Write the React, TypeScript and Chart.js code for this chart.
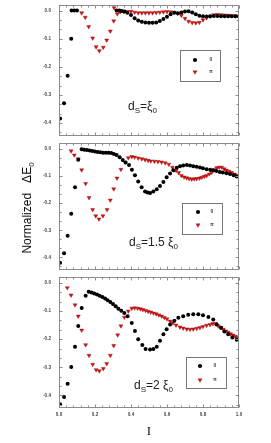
import React, { useEffect, useRef } from "react";
import { Chart, registerables } from "chart.js";
Chart.register(...registerables);

const xTicks = [0, 0.2, 0.4, 0.6, 0.8, 1.0];
const yTicks = [-0.4, -0.3, -0.2, -0.1, 0.0];
const seriesNames = ["0", "π"];

// Panel 1: dS = ξ0
const p1ZeroX = [0.006, 0.028, 0.048, 0.068, 0.07, 0.085, 0.1, 0.32, 0.335, 0.35, 0.365, 0.38, 0.4, 0.42, 0.44, 0.46, 0.48, 0.5, 0.52, 0.54, 0.56, 0.58, 0.6, 0.62, 0.64, 0.66, 0.68, 0.7, 0.72, 0.74, 0.76, 0.78, 0.8, 0.82, 0.84, 0.86, 0.88, 0.9, 0.92, 0.94, 0.96, 0.98, 1.0];
const p1ZeroY = [-0.384, -0.33, -0.232, -0.1, 0, 0, 0, 0, 0, -0.001, -0.003, -0.008, -0.016, -0.027, -0.035, -0.04, -0.042, -0.043, -0.043, -0.042, -0.037, -0.03, -0.022, -0.013, -0.008, -0.009, -0.007, -0.003, -0.002, -0.007, -0.013, -0.018, -0.02, -0.021, -0.02, -0.019, -0.019, -0.02, -0.02, -0.02, -0.02, -0.02, -0.021];
const p1PiX = [0.126, 0.146, 0.165, 0.187, 0.206, 0.224, 0.246, 0.265, 0.285, 0.304, 0.306, 0.324, 0.34, 0.36, 0.38, 0.4, 0.42, 0.44, 0.46, 0.48, 0.5, 0.52, 0.54, 0.56, 0.58, 0.6, 0.62, 0.64, 0.66, 0.68, 0.7, 0.72, 0.74, 0.76, 0.78, 0.8, 0.82, 0.84, 0.86, 0.88, 0.9, 0.92, 0.94, 0.96, 0.98, 1.0];
const p1PiY = [-0.008, -0.024, -0.057, -0.098, -0.129, -0.143, -0.131, -0.105, -0.073, -0.037, 0.01, -0.012, -0.004, -0.004, -0.004, -0.003, -0.006, -0.008, -0.008, -0.008, -0.008, -0.008, -0.007, -0.006, -0.005, -0.004, -0.005, -0.006, -0.01, -0.017, -0.028, -0.038, -0.043, -0.044, -0.042, -0.033, -0.026, -0.02, -0.015, -0.014, -0.015, -0.016, -0.017, -0.018, -0.019, -0.02];

// Panel 2: dS = 1.5 ξ0
const p2ZeroX = [0.006, 0.028, 0.048, 0.068, 0.089, 0.107, 0.126, 0.14, 0.155, 0.17, 0.185, 0.2, 0.215, 0.23, 0.245, 0.26, 0.275, 0.29, 0.305, 0.32, 0.337, 0.354, 0.37, 0.389, 0.405, 0.422, 0.44, 0.459, 0.478, 0.492, 0.506, 0.524, 0.543, 0.561, 0.58, 0.598, 0.617, 0.635, 0.654, 0.672, 0.69, 0.71, 0.728, 0.746, 0.765, 0.783, 0.8, 0.82, 0.84, 0.857, 0.875, 0.893, 0.91, 0.93, 0.95, 0.97, 0.987];
const p2ZeroY = [-0.42, -0.385, -0.32, -0.239, -0.142, -0.04, -0.002, -0.003, -0.004, -0.006, -0.008, -0.01, -0.012, -0.013, -0.014, -0.014, -0.014, -0.015, -0.019, -0.023, -0.031, -0.041, -0.05, -0.06, -0.077, -0.097, -0.12, -0.142, -0.157, -0.161, -0.163, -0.157, -0.149, -0.137, -0.122, -0.105, -0.091, -0.079, -0.07, -0.064, -0.061, -0.06, -0.061, -0.064, -0.066, -0.069, -0.072, -0.075, -0.077, -0.079, -0.082, -0.085, -0.087, -0.09, -0.093, -0.097, -0.102];
const p2PiX = [0.067, 0.085, 0.107, 0.126, 0.148, 0.167, 0.187, 0.204, 0.222, 0.244, 0.267, 0.285, 0.304, 0.322, 0.344, 0.367, 0.385, 0.404, 0.42, 0.44, 0.46, 0.478, 0.495, 0.51, 0.53, 0.55, 0.57, 0.59, 0.61, 0.63, 0.65, 0.665, 0.68, 0.695, 0.709, 0.723, 0.737, 0.751, 0.765, 0.78, 0.793, 0.807, 0.82, 0.835, 0.848, 0.862, 0.876, 0.89, 0.904, 0.918, 0.93, 0.945, 0.96, 0.975, 0.99];
const p2PiY = [-0.008, -0.023, -0.037, -0.078, -0.128, -0.18, -0.224, -0.247, -0.259, -0.247, -0.224, -0.189, -0.148, -0.108, -0.076, -0.049, -0.033, -0.029, -0.031, -0.034, -0.037, -0.04, -0.043, -0.045, -0.046, -0.047, -0.049, -0.052, -0.057, -0.068, -0.08, -0.088, -0.099, -0.104, -0.107, -0.11, -0.112, -0.111, -0.11, -0.108, -0.105, -0.102, -0.099, -0.093, -0.087, -0.078, -0.07, -0.068, -0.068, -0.074, -0.079, -0.083, -0.088, -0.093, -0.098];

// Panel 3: dS = 2 ξ0
const p3ZeroX = [0.006, 0.028, 0.048, 0.068, 0.089, 0.107, 0.126, 0.148, 0.165, 0.181, 0.196, 0.211, 0.226, 0.241, 0.256, 0.27, 0.285, 0.3, 0.315, 0.33, 0.346, 0.363, 0.381, 0.404, 0.422, 0.44, 0.463, 0.481, 0.506, 0.524, 0.543, 0.561, 0.58, 0.598, 0.617, 0.641, 0.663, 0.69, 0.718, 0.746, 0.774, 0.8, 0.83, 0.857, 0.876, 0.9, 0.919, 0.94, 0.963, 0.987];
const p3ZeroY = [-0.432, -0.406, -0.359, -0.299, -0.227, -0.153, -0.089, -0.045, -0.031, -0.034, -0.037, -0.041, -0.045, -0.05, -0.055, -0.061, -0.068, -0.075, -0.083, -0.092, -0.099, -0.107, -0.118, -0.142, -0.171, -0.2, -0.221, -0.235, -0.237, -0.235, -0.227, -0.206, -0.182, -0.165, -0.148, -0.134, -0.124, -0.118, -0.113, -0.111, -0.111, -0.115, -0.121, -0.13, -0.148, -0.159, -0.173, -0.182, -0.194, -0.202];
const p3PiX = [0.046, 0.067, 0.089, 0.107, 0.126, 0.148, 0.167, 0.187, 0.206, 0.224, 0.246, 0.265, 0.285, 0.304, 0.326, 0.344, 0.363, 0.385, 0.404, 0.42, 0.437, 0.452, 0.466, 0.481, 0.495, 0.51, 0.525, 0.54, 0.555, 0.57, 0.585, 0.6, 0.617, 0.633, 0.65, 0.672, 0.69, 0.71, 0.728, 0.746, 0.765, 0.783, 0.8, 0.82, 0.839, 0.855, 0.87, 0.885, 0.9, 0.913, 0.927, 0.94, 0.953, 0.967, 0.98, 0.993];
const p3PiY = [-0.017, -0.043, -0.078, -0.118, -0.168, -0.22, -0.258, -0.29, -0.309, -0.313, -0.305, -0.287, -0.258, -0.223, -0.185, -0.153, -0.122, -0.1, -0.09, -0.089, -0.09, -0.092, -0.095, -0.098, -0.101, -0.104, -0.107, -0.11, -0.114, -0.118, -0.123, -0.128, -0.136, -0.142, -0.15, -0.157, -0.161, -0.164, -0.165, -0.164, -0.162, -0.159, -0.155, -0.151, -0.148, -0.145, -0.145, -0.153, -0.159, -0.165, -0.171, -0.176, -0.181, -0.186, -0.19, -0.194];

const zip = (xs: number[], ys: number[]) =>
  xs.slice(0, Math.min(xs.length, ys.length)).map((x, i) => ({ x, y: ys[i] }));

const FRAME = "#8c8c8c";
const RED = "#ee0a0a";
const RED_EDGE = "#6a1010";

const framePlugin = {
  id: "frameTicks",
  afterDraw(chart: any) {
    const { ctx, chartArea: a, scales } = chart;
    const xs = scales.x;
    const ys = scales.y;
    ctx.save();
    ctx.strokeStyle = FRAME;
    ctx.lineWidth = 1;
    const L = Math.round(a.left) + 0.5;
    const R = Math.round(a.right) - 0.5;
    const T = Math.round(a.top) + 0.5;
    const B = Math.round(a.bottom) - 0.5;
    ctx.strokeRect(L, T, R - L, B - T);
    ctx.beginPath();
    for (let i = 0; i <= 25; i++) {
      const px = Math.round(xs.getPixelForValue(i * 0.04)) + 0.5;
      const len = i % 5 === 0 ? 3 : 2;
      ctx.moveTo(px, T);
      ctx.lineTo(px, T + len);
      ctx.moveTo(px, B);
      ctx.lineTo(px, B - len);
    }
    for (let i = 0; i <= 13; i++) {
      const py = Math.round(ys.getPixelForValue(-i * (0.1 / 3))) + 0.5;
      const len = i % 3 === 0 ? 3 : 2;
      ctx.moveTo(L, py);
      ctx.lineTo(L + len, py);
      ctx.moveTo(R, py);
      ctx.lineTo(R - len, py);
    }
    ctx.stroke();
    ctx.restore();
  },
};

const legendPlugin = {
  id: "boxLegend",
  afterDraw(chart: any, _args: any, opts: any) {
    const { ctx } = chart;
    const b = opts.box;
    if (!b) return;
    ctx.save();
    ctx.strokeStyle = "#777";
    ctx.lineWidth = 1;
    ctx.strokeRect(Math.round(b.x) + 0.5, Math.round(b.y) + 0.5, b.w, b.h);
    const mx = b.x + b.mx;
    const tx = b.x + b.tx;
    const y1 = b.y + b.y1;
    const y2 = b.y + b.y2;
    ctx.fillStyle = "#000";
    ctx.beginPath();
    ctx.arc(mx, y1, 2.1, 0, Math.PI * 2);
    ctx.fill();
    const r = 2.3;
    ctx.beginPath();
    ctx.moveTo(mx, y2 + r);
    ctx.lineTo(mx - r * 0.866, y2 - r * 0.5);
    ctx.lineTo(mx + r * 0.866, y2 - r * 0.5);
    ctx.closePath();
    ctx.fillStyle = RED;
    ctx.fill();
    ctx.strokeStyle = RED_EDGE;
    ctx.lineWidth = 0.4;
    ctx.stroke();
    ctx.fillStyle = "#444";
    ctx.font = "bold 5px Arial";
    ctx.textAlign = "center";
    ctx.textBaseline = "middle";
    ctx.fillText(seriesNames[0], tx, y1);
    ctx.fillText(seriesNames[1], tx, y2);
    ctx.restore();
  },
};

type PanelProps = {
  top: number;
  height: number;
  padTop: number;
  padBottom: number;
  showX: boolean;
  zero: { x: number; y: number }[];
  pi: { x: number; y: number }[];
  box: any;
};

function Panel(p: PanelProps) {
  const ref = useRef<HTMLCanvasElement>(null);
  useEffect(() => {
    if (!ref.current) return;
    const tickFont = { size: 4.6, weight: "bold" as const, family: "Arial" };
    const chart = new Chart(ref.current, {
      type: "scatter",
      data: {
        datasets: [
          {
            label: seriesNames[0],
            data: p.zero,
            pointStyle: "circle",
            pointRadius: 2.0,
            pointBorderWidth: 0,
            backgroundColor: "#000",
            borderColor: "#000",
          },
          {
            label: seriesNames[1],
            data: p.pi,
            pointStyle: "triangle",
            pointRotation: 180,
            pointRadius: 2.3,
            pointBorderWidth: 0.4,
            backgroundColor: RED,
            borderColor: RED_EDGE,
          },
        ],
      },
      options: {
        animation: false,
        responsive: false,
        devicePixelRatio: 1,
        layout: { padding: { left: 0, right: 32, top: p.padTop, bottom: p.padBottom } },
        plugins: {
          legend: { display: false },
          tooltip: { enabled: false },
          boxLegend: { box: p.box },
        } as any,
        scales: {
          x: {
            type: "linear",
            min: 0,
            max: 1.0,
            display: p.showX,
            grid: { display: false, drawTicks: false },
            border: { display: false },
            afterBuildTicks: (s: any) => {
              s.ticks = xTicks.map((v) => ({ value: v }));
            },
            afterFit: (s: any) => {
              if (p.showX) s.height = 20;
              s.paddingLeft = 0;
              s.paddingRight = 0;
              s.paddingTop = 0;
              s.paddingBottom = 0;
            },
            ticks: {
              autoSkip: false,
              maxRotation: 0,
              padding: 4,
              color: "#444",
              font: tickFont,
              callback: (v: any) => Number(v).toFixed(1),
            },
          },
          y: {
            type: "linear",
            min: -0.445,
            max: 0.02,
            grid: { display: false, drawTicks: false },
            border: { display: false },
            afterBuildTicks: (s: any) => {
              s.ticks = yTicks.map((v) => ({ value: v }));
            },
            afterFit: (s: any) => {
              s.width = 59;
              s.paddingTop = 0;
              s.paddingBottom = 0;
              s.paddingLeft = 0;
              s.paddingRight = 0;
            },
            ticks: {
              autoSkip: false,
              padding: 8,
              color: "#444",
              font: tickFont,
              callback: (v: any) => (Math.abs(Number(v)) < 1e-9 ? "0.0" : Number(v).toFixed(1)),
            },
          },
        },
      },
      plugins: [framePlugin, legendPlugin],
    });
    return () => chart.destroy();
  }, []);
  return (
    <canvas
      ref={ref}
      width={271}
      height={p.height}
      style={{ position: "absolute", left: 0, top: p.top, width: 271, height: p.height }}
    />
  );
}

const subStyle: React.CSSProperties = { fontSize: 8, position: "relative", top: 3 };

function Label(props: { left: number; top: number; children: React.ReactNode }) {
  return (
    <div
      style={{
        position: "absolute",
        left: props.left,
        top: props.top,
        fontFamily: "Arial, 'Liberation Sans', sans-serif",
        fontSize: 12,
        lineHeight: "12px",
        color: "#222",
        whiteSpace: "pre",
      }}
    >
      {props.children}
    </div>
  );
}

export default function App() {
  return (
    <div style={{ position: "absolute", left: 0, top: 0, width: 271, height: 443, background: "#fff", overflow: "hidden" }}>
      <Panel
        top={0}
        height={140}
        padTop={5}
        padBottom={1}
        showX={false}
        zero={zip(p1ZeroX, p1ZeroY)}
        pi={zip(p1PiX, p1PiY)}
        box={{ x: 180, y: 50, w: 40, h: 31, mx: 15, tx: 31, y1: 10, y2: 22 }}
      />
      <Panel
        top={139}
        height={135}
        padTop={0}
        padBottom={1}
        showX={false}
        zero={zip(p2ZeroX, p2ZeroY)}
        pi={zip(p2PiX, p2PiY)}
        box={{ x: 182, y: 64, w: 40, h: 31, mx: 16, tx: 30, y1: 9, y2: 22 }}
      />
      <Panel
        top={273}
        height={170}
        padTop={0}
        padBottom={15}
        showX={true}
        zero={zip(p3ZeroX, p3ZeroY)}
        pi={zip(p3PiX, p3PiY)}
        box={{ x: 186, y: 84, w: 40, h: 31, mx: 14, tx: 29, y1: 9, y2: 23 }}
      />
      <Label left={128} top={100}>
        d<span style={subStyle}>S</span>=ξ<span style={subStyle}>0</span>
      </Label>
      <Label left={129} top={236}>
        d<span style={subStyle}>S</span>=1.5 ξ<span style={subStyle}>0</span>
      </Label>
      <Label left={134} top={379}>
        d<span style={subStyle}>S</span>=2 ξ<span style={subStyle}>0</span>
      </Label>
      <div
        style={{
          position: "absolute",
          left: 27 - 70,
          top: 208 - 9,
          width: 140,
          height: 18,
          lineHeight: "18px",
          textAlign: "center",
          transform: "rotate(-90deg)",
          fontFamily: "Arial, 'Liberation Sans', sans-serif",
          fontSize: 12,
          color: "#111",
          whiteSpace: "pre",
        }}
      >
        Normalized{"   "}ΔE<span style={{ fontSize: 8, position: "relative", top: 3 }}>0</span>
      </div>
      <div
        style={{
          position: "absolute",
          left: 143,
          top: 424,
          width: 12,
          textAlign: "center",
          fontFamily: "'Liberation Serif', 'DejaVu Serif', serif",
          fontSize: 13,
          lineHeight: "14px",
          color: "#111",
        }}
      >
        I
      </div>
    </div>
  );
}
